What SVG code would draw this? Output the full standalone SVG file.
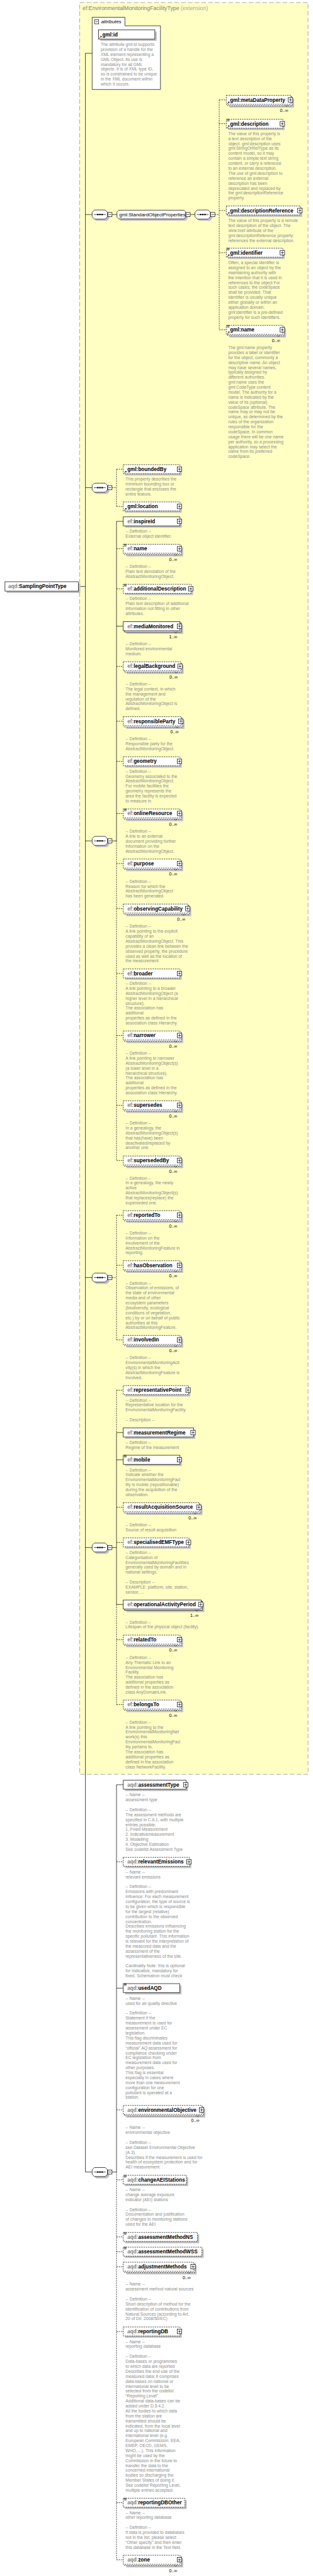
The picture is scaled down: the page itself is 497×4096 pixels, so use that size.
<svg xmlns="http://www.w3.org/2000/svg" width="497" height="4096" viewBox="0 0 497 4096">
<style>
.b{fill:#fff;stroke:#000;stroke-width:1}
.o{stroke-dasharray:3 2}
.s{fill:#c0c0c0}
.l{font-family:"Liberation Sans",Arial,sans-serif;font-size:11.4px;font-weight:bold;fill:#000}
.n{font-family:"Liberation Sans",Arial,sans-serif;font-size:11px;fill:#000}
.p{fill:#808080}
.d{font-family:"Liberation Sans",Arial,sans-serif;font-size:9.4px;fill:#8c8c8c}
.c{font-family:"Liberation Sans",Arial,sans-serif;font-size:10px;fill:#000;text-anchor:end}
.ln{fill:none;stroke:#000;stroke-width:1}
.dl{fill:none;stroke:#000;stroke-width:1;stroke-dasharray:3 2}
.nt{fill:none;stroke:#000;stroke-width:0.8}
</style>
<defs>
<g id="plus"><rect width="10" height="10" class="b"/><path d="M2,5H8M5,2V8" stroke="#000"/></g>
<g id="minus"><rect width="9.3" height="9.3" class="b"/><path d="M2,4.65H7.3" stroke="#000"/></g>
<g id="ref"><path d="M0,5L3.5,1.5" stroke="#000" stroke-width="1.2"/><path d="M1.5,0H5V3.5Z" fill="#000"/></g>
<g id="smp"><path d="M0,0.5H5.5M0,2.5H5.5M0,4.5H5.5" stroke="#000" stroke-width="0.9"/></g>
<g id="seq">
<polygon class="s" points="9,-6 33,-6 38,-1 38,9 33,14 9,14 4,9 4,-1"/>
<polygon class="b" points="5,-10 29,-10 34,-5 34,5 29,10 5,10 0,5 0,-5"/>
<path d="M4,0H30" stroke="#000"/>
<rect x="11" y="-1.5" width="3" height="3" fill="#000"/><rect x="15.8" y="-1.5" width="3" height="3" fill="#000"/><rect x="20.6" y="-1.5" width="3" height="3" fill="#000"/>
<use href="#minus" x="34.7" y="-4.65"/>
</g>
</defs>
<g transform="scale(0.7162)">
<rect x="176.7" y="5.7" width="506.3" height="3933.5" fill="#ffffc4" stroke="#8a8a8a" stroke-dasharray="10 5"/>
<text x="183" y="23" style="font-family:'Liberation Sans',Arial,sans-serif;font-size:12.3px;fill:#808080">ef:EnvironmentalMonitoringFacilityType<tspan fill="#a8a8a8"> (extension)</tspan></text>

<g id="connectors">
<path class="ln" d="M189.3,118.3V4822.2M189.3,118.3H204.3M178,1302H189.3M189.3,476.3H204.3M189.3,1082.7H204.3M189.3,1866.9H204.3M189.3,2836.4H204.3M189.3,3435.7H204.3M189.3,4822.2H204.3"/>
<path class="ln" d="M248.3,476.3H259.3M421.7,476.3H432.3"/>
<path class="dl" d="M476,476.3H486M486,221.7V732.3M486,221.7H501.7M486,274.7H501.7M486,467.3H501.7M486,561H501.7M486,732.3H501.7"/>
<path class="dl" d="M248.3,1082.7H258.3M258.3,1041.7V1124.3M258.3,1041.7H273.3M258.3,1124.3H273.3"/>
<path class="ln" d="M248.3,1866.9H258.3M258.3,1157.5V1866.9M258.3,1157.5H273.3M258.3,1390.3H273.3"/>
<path class="dl" d="M258.3,1866.9V2576.5M258.3,1218.3H273.3M258.3,1307.3H273.3M258.3,1479.3H273.3M258.3,1601.2H273.3M258.3,1690.2H273.3M258.3,1806H273.3M258.3,1917.2H273.3M258.3,2017.2H273.3M258.3,2161.3H273.3M258.3,2298.9H273.3M258.3,2453.9H273.3M258.3,2576.5H273.3"/>
<path class="dl" d="M248.3,2836.4H258.3M258.3,2697.9V2974.8M258.3,2697.9H273.3M258.3,2809.1H273.3M258.3,2974.8H273.3"/>
<path class="ln" d="M248.3,3435.7H258.3M258.3,3180.4V3562.2M258.3,3180.4H273.3M258.3,3240.9H273.3M258.3,3562.2H273.3"/>
<path class="dl" d="M258.3,3086.3V3180.4M258.3,3562.2V3784.3M258.3,3086.3H273.3M258.3,3346.3H273.3M258.3,3424.3H273.3M258.3,3640.2H273.3M258.3,3784.3H273.3"/>
<path class="ln" d="M248.3,4822.2H258.3M258.3,3962.4V4822.2M258.3,3962.4H273.3M258.3,4413.9H273.3"/>
<path class="dl" d="M258.3,4822.2V5683M258.3,4133.5H273.3M258.3,4684.3H273.3M258.3,4839.4H273.3M258.3,4966.3H273.3M258.3,4999H273.3M258.3,5032.4H273.3M258.3,5176.2H273.3M258.3,5556.4H273.3M258.3,5683H273.3"/>
</g>

<g id="root">
<rect class="s" x="15" y="1295.5" width="163" height="21"/>
<rect class="b" x="11" y="1291.5" width="163" height="21"/>
<text class="l" x="18" y="1306"><tspan class="p">aqd:</tspan>SamplingPointType</text>
</g>

<g id="attributes">
<path class="b" d="M204.3,38.3H277V57.3H355.7V198.7H204.3Z"/>
<use href="#minus" x="209.5" y="43.7"/>
<text x="224" y="52" style="font-family:'Liberation Sans',Arial,sans-serif;font-size:11px;font-style:italic">attributes</text>
<rect class="s" x="222.3" y="70.3" width="125" height="20.4"/>
<rect class="b" x="218.3" y="66.3" width="125" height="20.4"/>
<text class="l" x="227" y="80.5">gml:id</text>
<use href="#ref" x="220.3" y="80"/>
<text class="d" x="223.3" y="102"><tspan x="223.3">The attribute gml:id supports</tspan><tspan x="223.3" dy="11">provision of a handle for the</tspan><tspan x="223.3" dy="11">XML element representing a</tspan><tspan x="223.3" dy="11">GML Object. Its use is</tspan><tspan x="223.3" dy="11">mandatory for all GML</tspan><tspan x="223.3" dy="11">objects. It is of XML type ID,</tspan><tspan x="223.3" dy="11">so is constrained to be unique</tspan><tspan x="223.3" dy="11">in the XML document within</tspan><tspan x="223.3" dy="11">which it occurs.</tspan></text>
</g>

<g id="seq-std"><use href="#seq" x="204.3" y="476.3"/></g>
<g id="g-StandardObjectProperties">
<polygon class="s" points="267.3,470.7 411.7,470.7 415.7,474.7 415.7,486 411.7,490 267.3,490 263.3,486 263.3,474.7"/>
<polygon class="b" points="263.3,466.7 407.7,466.7 411.7,470.7 411.7,482 407.7,486 263.3,486 259.3,482 259.3,470.7"/>
<text class="n" x="264.3" y="480">gml:StandardObjectProperties</text>
<use href="#minus" x="412.3" y="471.7"/>
</g>
<g id="seq-gml"><use href="#seq" x="432.3" y="476.3"/></g>

<g id="e-metaDataProperty">
<rect class="s" x="508.7" y="218.7" width="143.3" height="20"/>
<rect class="b o" x="504.7" y="214.7" width="143.3" height="20"/>
<rect class="b o" x="501.7" y="211.7" width="143.3" height="20"/>
<path class="nt" d="M632,233.2l3.5,3.5l3.5,-3.5"/>
<text class="l" x="510" y="225.7">gml:metaDataProperty</text>
<use href="#ref" x="503.7" y="225.7"/>
<use href="#plus" x="639" y="216.7"/>
<text class="c" x="639" y="248.7">0..∞</text>
</g>
<g id="e-description">
<rect class="s" x="505.7" y="268.7" width="125.3" height="20"/>
<rect class="b o" x="501.7" y="264.7" width="125.3" height="20"/>
<use href="#smp" x="503.2" y="264.2"/>
<text class="l" x="510" y="278.7">gml:description</text>
<use href="#ref" x="503.7" y="278.7"/>
<use href="#plus" x="621" y="269.7"/>
<text class="d" x="506" y="300"><tspan x="506">The value of this property is</tspan><tspan x="506" dy="11">a text description of the</tspan><tspan x="506" dy="11">object. gml:description uses</tspan><tspan x="506" dy="11">gml:StringOrRefType as its</tspan><tspan x="506" dy="11">content model, so it may</tspan><tspan x="506" dy="11">contain a simple text string</tspan><tspan x="506" dy="11">content, or carry a reference</tspan><tspan x="506" dy="11">to an external description.</tspan><tspan x="506" dy="11">The use of gml:description to</tspan><tspan x="506" dy="11">reference an external</tspan><tspan x="506" dy="11">description has been</tspan><tspan x="506" dy="11">deprecated and replaced by</tspan><tspan x="506" dy="11">the gml:descriptionReference</tspan><tspan x="506" dy="11">property.</tspan></text>
</g>
<g id="e-descriptionReference">
<rect class="s" x="505.7" y="461.3" width="164.3" height="20"/>
<rect class="b o" x="501.7" y="457.3" width="164.3" height="20"/>
<text class="l" x="510" y="471.3">gml:descriptionReference</text>
<use href="#ref" x="503.7" y="471.3"/>
<use href="#plus" x="660" y="462.3"/>
<text class="d" x="506" y="493"><tspan x="506">The value of this property is a remote</tspan><tspan x="506" dy="11">text description of the object. The</tspan><tspan x="506" dy="11">xlink:href attribute of the</tspan><tspan x="506" dy="11">gml:descriptionReference property</tspan><tspan x="506" dy="11">references the external description.</tspan></text>
</g>
<g id="e-identifier">
<rect class="s" x="505.7" y="555" width="125.3" height="20"/>
<rect class="b o" x="501.7" y="551" width="125.3" height="20"/>
<use href="#smp" x="503.2" y="550.5"/>
<text class="l" x="510" y="565">gml:identifier</text>
<use href="#ref" x="503.7" y="565"/>
<use href="#plus" x="621" y="556"/>
<text class="d" x="506" y="586.5"><tspan x="506">Often, a special identifier is</tspan><tspan x="506" dy="11">assigned to an object by the</tspan><tspan x="506" dy="11">maintaining authority with</tspan><tspan x="506" dy="11">the intention that it is used in</tspan><tspan x="506" dy="11">references to the object For</tspan><tspan x="506" dy="11">such cases, the codeSpace</tspan><tspan x="506" dy="11">shall be provided. That</tspan><tspan x="506" dy="11">identifier is usually unique</tspan><tspan x="506" dy="11">either globally or within an</tspan><tspan x="506" dy="11">application domain.</tspan><tspan x="506" dy="11">gml:identifier is a pre-defined</tspan><tspan x="506" dy="11">property for such identifiers.</tspan></text>
</g>
<g id="e-gmlname">
<rect class="s" x="508.7" y="729.3" width="125.3" height="20"/>
<rect class="b o" x="504.7" y="725.3" width="125.3" height="20"/>
<rect class="b o" x="501.7" y="722.3" width="125.3" height="20"/>
<path class="nt" d="M614,743.8l3.5,3.5l3.5,-3.5"/>
<use href="#smp" x="503.2" y="721.8"/>
<text class="l" x="510" y="736.3">gml:name</text>
<use href="#ref" x="503.7" y="736.3"/>
<use href="#plus" x="621" y="727.3"/>
<text class="c" x="621" y="759.3">0..∞</text>
<text class="d" x="506" y="775"><tspan x="506">The gml:name property</tspan><tspan x="506" dy="11">provides a label or identifier</tspan><tspan x="506" dy="11">for the object, commonly a</tspan><tspan x="506" dy="11">descriptive name. An object</tspan><tspan x="506" dy="11">may have several names,</tspan><tspan x="506" dy="11">typically assigned by</tspan><tspan x="506" dy="11">different authorities.</tspan><tspan x="506" dy="11">gml:name uses the</tspan><tspan x="506" dy="11">gml:CodeType content</tspan><tspan x="506" dy="11">model.  The authority for a</tspan><tspan x="506" dy="11">name is indicated by the</tspan><tspan x="506" dy="11">value of its (optional)</tspan><tspan x="506" dy="11">codeSpace attribute.  The</tspan><tspan x="506" dy="11">name may or may not be</tspan><tspan x="506" dy="11">unique, as determined by the</tspan><tspan x="506" dy="11">rules of the organization</tspan><tspan x="506" dy="11">responsible for the</tspan><tspan x="506" dy="11">codeSpace.  In common</tspan><tspan x="506" dy="11">usage there will be one name</tspan><tspan x="506" dy="11">per authority, so a processing</tspan><tspan x="506" dy="11">application may select the</tspan><tspan x="506" dy="11">name from its preferred</tspan><tspan x="506" dy="11">codeSpace.</tspan></text>
</g>

<g id="seq-bounded"><use href="#seq" x="204.3" y="1082.7"/></g>
<g id="e-boundedBy">
<rect class="s" x="277.3" y="1035.7" width="125.7" height="20"/>
<rect class="b o" x="273.3" y="1031.7" width="125.7" height="20"/>
<text class="l" x="282.3" y="1045.7">gml:boundedBy</text>
<use href="#ref" x="275.3" y="1045.7"/>
<use href="#plus" x="393" y="1036.7"/>
<text class="d" x="278.3" y="1067"><tspan x="278.3">This property describes the</tspan><tspan x="278.3" dy="11">minimum bounding box or</tspan><tspan x="278.3" dy="11">rectangle that encloses the</tspan><tspan x="278.3" dy="11">entire feature.</tspan></text>
</g>
<g id="e-location">
<rect class="s" x="277.3" y="1118.3" width="125.7" height="20"/>
<rect class="b o" x="273.3" y="1114.3" width="125.7" height="20"/>
<text class="l" x="282.3" y="1128.3">gml:location</text>
<use href="#ref" x="275.3" y="1128.3"/>
<use href="#plus" x="393" y="1119.3"/>
</g>

<g id="seq-amo"><use href="#seq" x="204.3" y="1866.9"/></g>
<g id="e-inspireId">
<rect class="s" x="277.3" y="1151.5" width="125.7" height="20"/>
<rect class="b" x="273.3" y="1147.5" width="125.7" height="20"/>
<text class="l" x="282.3" y="1161.5"><tspan class="p">ef:</tspan>inspireId</text>
<use href="#plus" x="393" y="1152.5"/>
<text class="d" x="278.3" y="1183"><tspan x="278.3">-- Definition --</tspan><tspan x="278.3" dy="11">External object identifier.</tspan></text>
</g>
<g id="e-name">
<rect class="s" x="280.3" y="1215.3" width="125.7" height="20"/>
<rect class="b o" x="276.3" y="1211.3" width="125.7" height="20"/>
<rect class="b o" x="273.3" y="1208.3" width="125.7" height="20"/>
<path class="nt" d="M386,1229.8l3.5,3.5l3.5,-3.5"/>
<use href="#smp" x="275" y="1207.8"/>
<text class="l" x="282.3" y="1222.3"><tspan class="p">ef:</tspan>name</text>
<use href="#plus" x="393" y="1213.3"/>
<text class="c" x="393" y="1245.3">0..∞</text>
<text class="d" x="278.3" y="1260.7"><tspan x="278.3">-- Definition --</tspan><tspan x="278.3" dy="11">Plain text denotation of the</tspan><tspan x="278.3" dy="11">AbstractMonitoringObject.</tspan></text>
</g>
<g id="e-additionalDescription">
<rect class="s" x="277.3" y="1301.3" width="150.7" height="20"/>
<rect class="b o" x="273.3" y="1297.3" width="150.7" height="20"/>
<use href="#smp" x="275" y="1296.8"/>
<text class="l" x="282.3" y="1311.3"><tspan class="p">ef:</tspan>additionalDescription</text>
<use href="#plus" x="418" y="1302.3"/>
<text class="d" x="278.3" y="1332.6"><tspan x="278.3">-- Definition --</tspan><tspan x="278.3" dy="11">Plain text description of additional</tspan><tspan x="278.3" dy="11">information not fitting in other</tspan><tspan x="278.3" dy="11">attributes.</tspan></text>
</g>
<g id="e-mediaMonitored">
<rect class="s" x="280.3" y="1387.3" width="125.7" height="20"/>
<rect class="b" x="276.3" y="1383.3" width="125.7" height="20"/>
<rect class="b" x="273.3" y="1380.3" width="125.7" height="20"/>
<path class="nt" d="M386,1401.8l3.5,3.5l3.5,-3.5"/>
<text class="l" x="282.3" y="1394.3"><tspan class="p">ef:</tspan>mediaMonitored</text>
<use href="#plus" x="393" y="1385.3"/>
<text class="c" x="393" y="1417.3">1..∞</text>
<text class="d" x="278.3" y="1432.7"><tspan x="278.3">-- Definition --</tspan><tspan x="278.3" dy="11">Monitored environmental</tspan><tspan x="278.3" dy="11">medium.</tspan></text>
</g>
<g id="e-legalBackground">
<rect class="s" x="280.3" y="1476.3" width="126.7" height="20"/>
<rect class="b o" x="276.3" y="1472.3" width="126.7" height="20"/>
<rect class="b o" x="273.3" y="1469.3" width="126.7" height="20"/>
<path class="nt" d="M387,1490.8l3.5,3.5l3.5,-3.5"/>
<text class="l" x="282.3" y="1483.3"><tspan class="p">ef:</tspan>legalBackground</text>
<use href="#plus" x="394" y="1474.3"/>
<text class="c" x="394" y="1506.3">0..∞</text>
<text class="d" x="278.3" y="1521.8"><tspan x="278.3">-- Definition --</tspan><tspan x="278.3" dy="11">The legal context, in which</tspan><tspan x="278.3" dy="11">the management and</tspan><tspan x="278.3" dy="11">regulation of the</tspan><tspan x="278.3" dy="11">AbstractMonitoringObject is</tspan><tspan x="278.3" dy="11">defined.</tspan></text>
</g>
<g id="e-responsibleParty">
<rect class="s" x="280.3" y="1598.2" width="128.7" height="20"/>
<rect class="b o" x="276.3" y="1594.2" width="128.7" height="20"/>
<rect class="b o" x="273.3" y="1591.2" width="128.7" height="20"/>
<path class="nt" d="M389,1612.7l3.5,3.5l3.5,-3.5"/>
<text class="l" x="282.3" y="1605.2"><tspan class="p">ef:</tspan>responsibleParty</text>
<use href="#plus" x="396" y="1596.2"/>
<text class="c" x="396" y="1628.2">0..∞</text>
<text class="d" x="278.3" y="1643.6"><tspan x="278.3">-- Definition --</tspan><tspan x="278.3" dy="11">Responsible party for the</tspan><tspan x="278.3" dy="11">AbstractMonitoringObject.</tspan></text>
</g>
<g id="e-geometry">
<rect class="s" x="277.3" y="1684.2" width="125.7" height="20"/>
<rect class="b o" x="273.3" y="1680.2" width="125.7" height="20"/>
<text class="l" x="282.3" y="1694.2"><tspan class="p">ef:</tspan>geometry</text>
<use href="#plus" x="393" y="1685.2"/>
<text class="d" x="278.3" y="1715.5"><tspan x="278.3">-- Definition --</tspan><tspan x="278.3" dy="11">Geometry associated to the</tspan><tspan x="278.3" dy="11">AbstractMonitoringObject.</tspan><tspan x="278.3" dy="11">For mobile facilities the</tspan><tspan x="278.3" dy="11">geometry represents the</tspan><tspan x="278.3" dy="11">area the facility is expected</tspan><tspan x="278.3" dy="11">to measure in.</tspan></text>
</g>
<g id="e-onlineResource">
<rect class="s" x="280.3" y="1803" width="125.7" height="20"/>
<rect class="b o" x="276.3" y="1799" width="125.7" height="20"/>
<rect class="b o" x="273.3" y="1796" width="125.7" height="20"/>
<path class="nt" d="M386,1817.5l3.5,3.5l3.5,-3.5"/>
<use href="#smp" x="275" y="1795.5"/>
<text class="l" x="282.3" y="1810"><tspan class="p">ef:</tspan>onlineResource</text>
<use href="#plus" x="393" y="1801"/>
<text class="c" x="393" y="1833">0..∞</text>
<text class="d" x="278.3" y="1848.8"><tspan x="278.3">-- Definition --</tspan><tspan x="278.3" dy="11">A link to an external</tspan><tspan x="278.3" dy="11">document providing further</tspan><tspan x="278.3" dy="11">information on the</tspan><tspan x="278.3" dy="11">AbstractMonitoringObject.</tspan></text>
</g>
<g id="e-purpose">
<rect class="s" x="280.3" y="1914.2" width="125.7" height="20"/>
<rect class="b o" x="276.3" y="1910.2" width="125.7" height="20"/>
<rect class="b o" x="273.3" y="1907.2" width="125.7" height="20"/>
<path class="nt" d="M386,1928.7l3.5,3.5l3.5,-3.5"/>
<text class="l" x="282.3" y="1921.2"><tspan class="p">ef:</tspan>purpose</text>
<use href="#plus" x="393" y="1912.2"/>
<text class="c" x="393" y="1944.2">0..∞</text>
<text class="d" x="278.3" y="1959.9"><tspan x="278.3">-- Definition --</tspan><tspan x="278.3" dy="11">Reason for which the</tspan><tspan x="278.3" dy="11">AbstractMonitoringObject</tspan><tspan x="278.3" dy="11">has been generated.</tspan></text>
</g>
<g id="e-observingCapability">
<rect class="s" x="280.3" y="2014.2" width="143.7" height="20"/>
<rect class="b o" x="276.3" y="2010.2" width="143.7" height="20"/>
<rect class="b o" x="273.3" y="2007.2" width="143.7" height="20"/>
<path class="nt" d="M404,2028.7l3.5,3.5l3.5,-3.5"/>
<text class="l" x="282.3" y="2021.2"><tspan class="p">ef:</tspan>observingCapability</text>
<use href="#plus" x="411" y="2012.2"/>
<text class="c" x="411" y="2044.2">0..∞</text>
<text class="d" x="278.3" y="2059.9"><tspan x="278.3">-- Definition --</tspan><tspan x="278.3" dy="11">A link pointing to the explicit</tspan><tspan x="278.3" dy="11">capability of an</tspan><tspan x="278.3" dy="11">AbstractMonitoringObject. This</tspan><tspan x="278.3" dy="11">provides a clean link between the</tspan><tspan x="278.3" dy="11">observed property, the procedure</tspan><tspan x="278.3" dy="11">used as well as the location of</tspan><tspan x="278.3" dy="11">the measurement</tspan></text>
</g>
<g id="e-broader">
<rect class="s" x="277.3" y="2155.3" width="125.7" height="20"/>
<rect class="b o" x="273.3" y="2151.3" width="125.7" height="20"/>
<text class="l" x="282.3" y="2165.3"><tspan class="p">ef:</tspan>broader</text>
<use href="#plus" x="393" y="2156.3"/>
<text class="d" x="278.3" y="2186.6"><tspan x="278.3">-- Definition --</tspan><tspan x="278.3" dy="11">A link pointing to a broader</tspan><tspan x="278.3" dy="11">AbstractMonitoringObject (a</tspan><tspan x="278.3" dy="11">higher level in a hierarchical</tspan><tspan x="278.3" dy="11">structure).</tspan><tspan x="278.3" dy="11">The association has</tspan><tspan x="278.3" dy="11">additional</tspan><tspan x="278.3" dy="11">properties as defined in the</tspan><tspan x="278.3" dy="11">association class Hierarchy.</tspan></text>
</g>
<g id="e-narrower">
<rect class="s" x="280.3" y="2295.9" width="125.7" height="20"/>
<rect class="b o" x="276.3" y="2291.9" width="125.7" height="20"/>
<rect class="b o" x="273.3" y="2288.9" width="125.7" height="20"/>
<path class="nt" d="M386,2310.4l3.5,3.5l3.5,-3.5"/>
<text class="l" x="282.3" y="2302.9"><tspan class="p">ef:</tspan>narrower</text>
<use href="#plus" x="393" y="2293.9"/>
<text class="c" x="393" y="2325.9">0..∞</text>
<text class="d" x="278.3" y="2341.6"><tspan x="278.3">-- Definition --</tspan><tspan x="278.3" dy="11">A link pointing to narrower</tspan><tspan x="278.3" dy="11">AbstractMonitoringObject(s)</tspan><tspan x="278.3" dy="11">(a lower level in a</tspan><tspan x="278.3" dy="11">hierarchical structure).</tspan><tspan x="278.3" dy="11">The association has</tspan><tspan x="278.3" dy="11">additional</tspan><tspan x="278.3" dy="11">properties as defined in the</tspan><tspan x="278.3" dy="11">association class Hierarchy.</tspan></text>
</g>
<g id="e-supersedes">
<rect class="s" x="280.3" y="2450.9" width="125.7" height="20"/>
<rect class="b o" x="276.3" y="2446.9" width="125.7" height="20"/>
<rect class="b o" x="273.3" y="2443.9" width="125.7" height="20"/>
<path class="nt" d="M386,2465.4l3.5,3.5l3.5,-3.5"/>
<text class="l" x="282.3" y="2457.9"><tspan class="p">ef:</tspan>supersedes</text>
<use href="#plus" x="393" y="2448.9"/>
<text class="c" x="393" y="2480.9">0..∞</text>
<text class="d" x="278.3" y="2496.6"><tspan x="278.3">-- Definition --</tspan><tspan x="278.3" dy="11">In a genealogy, the</tspan><tspan x="278.3" dy="11">AbstractMonitoringObject(s)</tspan><tspan x="278.3" dy="11">that has(have) been</tspan><tspan x="278.3" dy="11">deactivated/replaced by</tspan><tspan x="278.3" dy="11">another one.</tspan></text>
</g>
<g id="e-supersededBy">
<rect class="s" x="280.3" y="2573.5" width="125.7" height="20"/>
<rect class="b o" x="276.3" y="2569.5" width="125.7" height="20"/>
<rect class="b o" x="273.3" y="2566.5" width="125.7" height="20"/>
<path class="nt" d="M386,2588l3.5,3.5l3.5,-3.5"/>
<text class="l" x="282.3" y="2580.5"><tspan class="p">ef:</tspan>supersededBy</text>
<use href="#plus" x="393" y="2571.5"/>
<text class="c" x="393" y="2603.5">0..∞</text>
<text class="d" x="278.3" y="2618.8"><tspan x="278.3">-- Definition --</tspan><tspan x="278.3" dy="11">In a genealogy, the newly</tspan><tspan x="278.3" dy="11">active</tspan><tspan x="278.3" dy="11">AbstractMonitoringObject(s)</tspan><tspan x="278.3" dy="11">that replaces(replace) the</tspan><tspan x="278.3" dy="11">superseded one.</tspan></text>
</g>

<g id="seq-amf"><use href="#seq" x="204.3" y="2836.4"/></g>
<g id="e-reportedTo">
<rect class="s" x="280.3" y="2694.9" width="125.7" height="20"/>
<rect class="b o" x="276.3" y="2690.9" width="125.7" height="20"/>
<rect class="b o" x="273.3" y="2687.9" width="125.7" height="20"/>
<path class="nt" d="M386,2709.4l3.5,3.5l3.5,-3.5"/>
<text class="l" x="282.3" y="2701.9"><tspan class="p">ef:</tspan>reportedTo</text>
<use href="#plus" x="393" y="2692.9"/>
<text class="c" x="393" y="2724.9">0..∞</text>
<text class="d" x="278.3" y="2740.8"><tspan x="278.3">-- Definition --</tspan><tspan x="278.3" dy="11">Information on the</tspan><tspan x="278.3" dy="11">involvement of the</tspan><tspan x="278.3" dy="11">AbstractMonitoringFeature in</tspan><tspan x="278.3" dy="11">reporting.</tspan></text>
</g>
<g id="e-hasObservation">
<rect class="s" x="280.3" y="2806.1" width="125.7" height="20"/>
<rect class="b o" x="276.3" y="2802.1" width="125.7" height="20"/>
<rect class="b o" x="273.3" y="2799.1" width="125.7" height="20"/>
<path class="nt" d="M386,2820.6l3.5,3.5l3.5,-3.5"/>
<text class="l" x="282.3" y="2813.1"><tspan class="p">ef:</tspan>hasObservation</text>
<use href="#plus" x="393" y="2804.1"/>
<text class="c" x="393" y="2836.1">0..∞</text>
<text class="d" x="278.3" y="2851.9"><tspan x="278.3">-- Definition --</tspan><tspan x="278.3" dy="11">Observation of emissions, of</tspan><tspan x="278.3" dy="11">the state of environmental</tspan><tspan x="278.3" dy="11">media and of other</tspan><tspan x="278.3" dy="11">ecosystem parameters</tspan><tspan x="278.3" dy="11">(biodiversity, ecological</tspan><tspan x="278.3" dy="11">conditions of vegetation,</tspan><tspan x="278.3" dy="11">etc.) by or on behalf of public</tspan><tspan x="278.3" dy="11">authorities at this</tspan><tspan x="278.3" dy="11">AbstractMonitoringFeature.</tspan></text>
</g>
<g id="e-involvedIn">
<rect class="s" x="280.3" y="2971.8" width="125.7" height="20"/>
<rect class="b o" x="276.3" y="2967.8" width="125.7" height="20"/>
<rect class="b o" x="273.3" y="2964.8" width="125.7" height="20"/>
<path class="nt" d="M386,2986.3l3.5,3.5l3.5,-3.5"/>
<text class="l" x="282.3" y="2978.8"><tspan class="p">ef:</tspan>involvedIn</text>
<use href="#plus" x="393" y="2969.8"/>
<text class="c" x="393" y="3001.8">0..∞</text>
<text class="d" x="278.3" y="3017.6"><tspan x="278.3">-- Definition --</tspan><tspan x="278.3" dy="11">EnvironmentalMonitoringActi</tspan><tspan x="278.3" dy="11">vity(s) in which the</tspan><tspan x="278.3" dy="11">AbstractMonitoringFeature is</tspan><tspan x="278.3" dy="11">involved.</tspan></text>
</g>

<g id="seq-emf"><use href="#seq" x="204.3" y="3435.7"/></g>
<g id="e-representativePoint">
<rect class="s" x="277.3" y="3080.3" width="144.7" height="20"/>
<rect class="b o" x="273.3" y="3076.3" width="144.7" height="20"/>
<text class="l" x="282.3" y="3090.3"><tspan class="p">ef:</tspan>representativePoint</text>
<use href="#plus" x="412" y="3081.3"/>
<text class="d" x="278.3" y="3111.7"><tspan x="278.3">-- Definition --</tspan><tspan x="278.3" dy="11">Representative location for the</tspan><tspan x="278.3" dy="11">EnvironmentalMonitoringFacility.</tspan><tspan x="278.3" dy="22">-- Description --</tspan></text>
</g>
<g id="e-measurementRegime">
<rect class="s" x="277.3" y="3174.4" width="155.7" height="20"/>
<rect class="b" x="273.3" y="3170.4" width="155.7" height="20"/>
<text class="l" x="282.3" y="3184.4"><tspan class="p">ef:</tspan>measurementRegime</text>
<use href="#plus" x="423" y="3175.4"/>
<text class="d" x="278.3" y="3205.8"><tspan x="278.3">-- Definition --</tspan><tspan x="278.3" dy="11">Regime of the measurement</tspan></text>
</g>
<g id="e-mobile">
<rect class="s" x="277.3" y="3234.9" width="125.7" height="20"/>
<rect class="b" x="273.3" y="3230.9" width="125.7" height="20"/>
<use href="#smp" x="275" y="3230.4"/>
<text class="l" x="282.3" y="3244.9"><tspan class="p">ef:</tspan>mobile</text>
<use href="#plus" x="393" y="3235.9"/>
<text class="d" x="278.3" y="3266.7"><tspan x="278.3">-- Definition --</tspan><tspan x="278.3" dy="11">Indicate whether the</tspan><tspan x="278.3" dy="11">EnvironmentalMonitoringFaci</tspan><tspan x="278.3" dy="11">lity is mobile (repositionable)</tspan><tspan x="278.3" dy="11">during the acquisition of the</tspan><tspan x="278.3" dy="11">observation.</tspan></text>
</g>
<g id="e-resultAcquisitionSource">
<rect class="s" x="280.3" y="3343.3" width="168.7" height="20"/>
<rect class="b o" x="276.3" y="3339.3" width="168.7" height="20"/>
<rect class="b o" x="273.3" y="3336.3" width="168.7" height="20"/>
<path class="nt" d="M429,3357.8l3.5,3.5l3.5,-3.5"/>
<text class="l" x="282.3" y="3350.3"><tspan class="p">ef:</tspan>resultAcquisitionSource</text>
<use href="#plus" x="436" y="3341.3"/>
<text class="c" x="436" y="3373.3">0..∞</text>
<text class="d" x="278.3" y="3388.7"><tspan x="278.3">-- Definition --</tspan><tspan x="278.3" dy="11">Source of result acquisition</tspan></text>
</g>
<g id="e-specialisedEMFType">
<rect class="s" x="277.3" y="3418.3" width="145.7" height="20"/>
<rect class="b o" x="273.3" y="3414.3" width="145.7" height="20"/>
<text class="l" x="282.3" y="3428.3"><tspan class="p">ef:</tspan>specialisedEMFType</text>
<use href="#plus" x="413" y="3419.3"/>
<text class="d" x="278.3" y="3449.9"><tspan x="278.3">-- Definition --</tspan><tspan x="278.3" dy="11">Categorisation of</tspan><tspan x="278.3" dy="11">EnvironmentalMonitoringFacilities</tspan><tspan x="278.3" dy="11">generally used by domain and in</tspan><tspan x="278.3" dy="11">national settings.</tspan><tspan x="278.3" dy="22">-- Description --</tspan><tspan x="278.3" dy="11">EXAMPLE: platform, site, station,</tspan><tspan x="278.3" dy="11">sensor, ...</tspan></text>
</g>
<g id="e-operationalActivityPeriod">
<rect class="s" x="280.3" y="3559.2" width="172.7" height="20"/>
<rect class="b" x="276.3" y="3555.2" width="172.7" height="20"/>
<rect class="b" x="273.3" y="3552.2" width="172.7" height="20"/>
<path class="nt" d="M433,3573.7l3.5,3.5l3.5,-3.5"/>
<text class="l" x="282.3" y="3566.2"><tspan class="p">ef:</tspan>operationalActivityPeriod</text>
<use href="#plus" x="440" y="3557.2"/>
<text class="c" x="440" y="3589.2">1..∞</text>
<text class="d" x="278.3" y="3604.6"><tspan x="278.3">-- Definition --</tspan><tspan x="278.3" dy="11">Lifespan of the physical object (facility).</tspan></text>
</g>
<g id="e-relatedTo">
<rect class="s" x="280.3" y="3637.2" width="125.7" height="20"/>
<rect class="b o" x="276.3" y="3633.2" width="125.7" height="20"/>
<rect class="b o" x="273.3" y="3630.2" width="125.7" height="20"/>
<path class="nt" d="M386,3651.7l3.5,3.5l3.5,-3.5"/>
<text class="l" x="282.3" y="3644.2"><tspan class="p">ef:</tspan>relatedTo</text>
<use href="#plus" x="393" y="3635.2"/>
<text class="c" x="393" y="3667.2">0..∞</text>
<text class="d" x="278.3" y="3683"><tspan x="278.3">-- Definition --</tspan><tspan x="278.3" dy="11">Any Thematic Link to an</tspan><tspan x="278.3" dy="11">Environmental Monitoring</tspan><tspan x="278.3" dy="11">Facility.</tspan><tspan x="278.3" dy="11">The association has</tspan><tspan x="278.3" dy="11">additional properties as</tspan><tspan x="278.3" dy="11">defined in the association</tspan><tspan x="278.3" dy="11">class AnyDomainLink.</tspan></text>
</g>
<g id="e-belongsTo">
<rect class="s" x="280.3" y="3781.3" width="125.7" height="20"/>
<rect class="b o" x="276.3" y="3777.3" width="125.7" height="20"/>
<rect class="b o" x="273.3" y="3774.3" width="125.7" height="20"/>
<path class="nt" d="M386,3795.8l3.5,3.5l3.5,-3.5"/>
<text class="l" x="282.3" y="3788.3"><tspan class="p">ef:</tspan>belongsTo</text>
<use href="#plus" x="393" y="3779.3"/>
<text class="c" x="393" y="3811.3">0..∞</text>
<text class="d" x="278.3" y="3826.7"><tspan x="278.3">-- Definition --</tspan><tspan x="278.3" dy="11">A link pointing to the</tspan><tspan x="278.3" dy="11">EnvironmentalMonitoringNet</tspan><tspan x="278.3" dy="11">work(s) this</tspan><tspan x="278.3" dy="11">EnvironmentalMonitoringFaci</tspan><tspan x="278.3" dy="11">lity pertains to.</tspan><tspan x="278.3" dy="11">The association has</tspan><tspan x="278.3" dy="11">additional properties as</tspan><tspan x="278.3" dy="11">defined in the association</tspan><tspan x="278.3" dy="11">class NetworkFacility.</tspan></text>
</g>

<g id="seq-aqd"><use href="#seq" x="204.3" y="4822.2"/></g>
<g id="e-assessmentType">
<rect class="s" x="277.3" y="3956.4" width="139.4" height="20"/>
<rect class="b" x="273.3" y="3952.4" width="139.4" height="20"/>
<text class="l" x="282.3" y="3966.4"><tspan class="p">aqd:</tspan>assessmentType</text>
<use href="#plus" x="406.7" y="3957.4"/>
<text class="d" x="278.3" y="3988.1"><tspan x="278.3">-- Name --</tspan><tspan x="278.3" dy="11">assessment type</tspan><tspan x="278.3" dy="22">-- Definition --</tspan><tspan x="278.3" dy="11">The assessment methods are</tspan><tspan x="278.3" dy="11">specified in C.6.1, with multiple</tspan><tspan x="278.3" dy="11">entries possible:</tspan><tspan x="278.3" dy="11">1. Fixed Measurement</tspan><tspan x="278.3" dy="11">2. Indicativemeasurement</tspan><tspan x="278.3" dy="11">3. Modelling</tspan><tspan x="278.3" dy="11">4. Objective Estimation</tspan><tspan x="278.3" dy="11">See codelist Assessment Type</tspan></text>
</g>
<g id="e-relevantEmissions">
<rect class="s" x="277.3" y="4127.5" width="146.7" height="20"/>
<rect class="b o" x="273.3" y="4123.5" width="146.7" height="20"/>
<text class="l" x="282.3" y="4137.5"><tspan class="p">aqd:</tspan>relevantEmissions</text>
<use href="#plus" x="414" y="4128.5"/>
<text class="d" x="278.3" y="4159.1"><tspan x="278.3">-- Name --</tspan><tspan x="278.3" dy="11">relevant emissions</tspan><tspan x="278.3" dy="22">-- Definition --</tspan><tspan x="278.3" dy="11">Emissions with predominant</tspan><tspan x="278.3" dy="11">influence: For each measurement</tspan><tspan x="278.3" dy="11">configuration, the type of source is</tspan><tspan x="278.3" dy="11">to be given which is responsible</tspan><tspan x="278.3" dy="11">for the largest (relative)</tspan><tspan x="278.3" dy="11">contribution to the observed</tspan><tspan x="278.3" dy="11">concentration.</tspan><tspan x="278.3" dy="11">Describes emissions influencing</tspan><tspan x="278.3" dy="11">the monitoring station for the</tspan><tspan x="278.3" dy="11">specific pollutant. This information</tspan><tspan x="278.3" dy="11">is relevant for the interpretation of</tspan><tspan x="278.3" dy="11">the measured data and the</tspan><tspan x="278.3" dy="11">assessment of the</tspan><tspan x="278.3" dy="11">representativeness of the site.</tspan><tspan x="278.3" dy="22">Cardinality Note: this is optional</tspan><tspan x="278.3" dy="11">for Indicative, mandatory for</tspan><tspan x="278.3" dy="11">fixed. Schematron must check</tspan></text>
</g>
<g id="e-usedAQD">
<rect class="s" x="277.3" y="4407.9" width="125" height="20"/>
<rect class="b" x="273.3" y="4403.9" width="125" height="20"/>
<use href="#smp" x="275" y="4403.4"/>
<text class="l" x="282.3" y="4417.9"><tspan class="p">aqd:</tspan>usedAQD</text>
<text class="d" x="278.3" y="4439.9"><tspan x="278.3">-- Name --</tspan><tspan x="278.3" dy="11">used for air quality directive</tspan><tspan x="278.3" dy="22">-- Definition --</tspan><tspan x="278.3" dy="11">Statement if the</tspan><tspan x="278.3" dy="11">measurement is used for</tspan><tspan x="278.3" dy="11">assessment under EC</tspan><tspan x="278.3" dy="11">legislation.</tspan><tspan x="278.3" dy="11">This flag discriminates</tspan><tspan x="278.3" dy="11">measurement data used for</tspan><tspan x="278.3" dy="11">“official” AQ assessment for</tspan><tspan x="278.3" dy="11">compliance checking under</tspan><tspan x="278.3" dy="11">EC legislation from</tspan><tspan x="278.3" dy="11">measurement data used for</tspan><tspan x="278.3" dy="11">other purposes.</tspan><tspan x="278.3" dy="11">This flag is essential</tspan><tspan x="278.3" dy="11">especially in cases where</tspan><tspan x="278.3" dy="11">more than one measurement</tspan><tspan x="278.3" dy="11">configuration for one</tspan><tspan x="278.3" dy="11">pollutant is operated at a</tspan><tspan x="278.3" dy="11">station.</tspan></text>
</g>
<g id="e-environmentalObjective">
<rect class="s" x="280.3" y="4681.3" width="174.7" height="20"/>
<rect class="b o" x="276.3" y="4677.3" width="174.7" height="20"/>
<rect class="b o" x="273.3" y="4674.3" width="174.7" height="20"/>
<path class="nt" d="M435,4695.8l3.5,3.5l3.5,-3.5"/>
<text class="l" x="282.3" y="4688.3"><tspan class="p">aqd:</tspan>environmentalObjective</text>
<use href="#plus" x="442" y="4679.3"/>
<text class="c" x="442" y="4711.3">0..∞</text>
<text class="d" x="278.3" y="4726.7"><tspan x="278.3">-- Name --</tspan><tspan x="278.3" dy="11">environmental objective</tspan><tspan x="278.3" dy="22">-- Definition --</tspan><tspan x="278.3" dy="11">see Dataset Environmental Objective</tspan><tspan x="278.3" dy="11">(A.3).</tspan><tspan x="278.3" dy="11">Describes if the measurement is used for</tspan><tspan x="278.3" dy="11">health of ecosystem protection and for</tspan><tspan x="278.3" dy="11">AEI measurement.</tspan></text>
</g>
<g id="e-changeAEIStations">
<rect class="s" x="277.3" y="4833.4" width="140" height="20"/>
<rect class="b o" x="273.3" y="4829.4" width="140" height="20"/>
<use href="#smp" x="275" y="4828.9"/>
<text class="l" x="282.3" y="4843.4"><tspan class="p">aqd:</tspan>changeAEIStations</text>
<text class="d" x="278.3" y="4864.6"><tspan x="278.3">-- Name --</tspan><tspan x="278.3" dy="11">change average exposure</tspan><tspan x="278.3" dy="11">indicator (AEI) stations</tspan><tspan x="278.3" dy="22">-- Definition --</tspan><tspan x="278.3" dy="11">Documentation and justification</tspan><tspan x="278.3" dy="11">of changes in monitoring stations</tspan><tspan x="278.3" dy="11">used for the AEI</tspan></text>
</g>
<g id="e-assessmentMethodNS">
<rect class="s" x="277.3" y="4960.3" width="164.4" height="20"/>
<rect class="b o" x="273.3" y="4956.3" width="164.4" height="20"/>
<use href="#smp" x="275" y="4955.8"/>
<text class="l" x="282.3" y="4970.3"><tspan class="p">aqd:</tspan>assessmentMethodNS</text>
</g>
<g id="e-assessmentMethodWSS">
<rect class="s" x="277.3" y="4993" width="174.4" height="20"/>
<rect class="b o" x="273.3" y="4989" width="174.4" height="20"/>
<use href="#smp" x="275" y="4988.5"/>
<text class="l" x="282.3" y="5003"><tspan class="p">aqd:</tspan>assessmentMethodWSS</text>
</g>
<g id="e-adjustmentMethods">
<rect class="s" x="280.3" y="5029.4" width="155.7" height="20"/>
<rect class="b o" x="276.3" y="5025.4" width="155.7" height="20"/>
<rect class="b o" x="273.3" y="5022.4" width="155.7" height="20"/>
<path class="nt" d="M416,5043.9l3.5,3.5l3.5,-3.5"/>
<text class="l" x="282.3" y="5036.4"><tspan class="p">aqd:</tspan>adjustmentMethods</text>
<use href="#plus" x="423" y="5027.4"/>
<text class="c" x="423" y="5059.4">0..∞</text>
<text class="d" x="278.3" y="5074.4"><tspan x="278.3">-- Name --</tspan><tspan x="278.3" dy="11">assessment method natural sources</tspan><tspan x="278.3" dy="22">-- Definition --</tspan><tspan x="278.3" dy="11">Short description of method for the</tspan><tspan x="278.3" dy="11">identification of contributions from</tspan><tspan x="278.3" dy="11">Natural Sources (according to Art.</tspan><tspan x="278.3" dy="11">20 of Dir. 2008/50/EC)</tspan></text>
</g>
<g id="e-reportingDB">
<rect class="s" x="277.3" y="5170.2" width="125.7" height="20"/>
<rect class="b o" x="273.3" y="5166.2" width="125.7" height="20"/>
<text class="l" x="282.3" y="5180.2"><tspan class="p">aqd:</tspan>reportingDB</text>
<use href="#plus" x="393" y="5171.2"/>
<text class="d" x="278.3" y="5201.9"><tspan x="278.3">-- Name --</tspan><tspan x="278.3" dy="11">reporting database</tspan><tspan x="278.3" dy="22">-- Definition --</tspan><tspan x="278.3" dy="11">Data-bases or programmes</tspan><tspan x="278.3" dy="11">to which data are reported</tspan><tspan x="278.3" dy="11">Describes the end-use of the</tspan><tspan x="278.3" dy="11">measured data; it comprises</tspan><tspan x="278.3" dy="11">data-bases on national or</tspan><tspan x="278.3" dy="11">international level to be</tspan><tspan x="278.3" dy="11">selected from the codelist</tspan><tspan x="278.3" dy="11">“Reporting Level”.</tspan><tspan x="278.3" dy="11">Additional data-bases can be</tspan><tspan x="278.3" dy="11">added under D.5.4.2.</tspan><tspan x="278.3" dy="11">All the bodies to which data</tspan><tspan x="278.3" dy="11">from the station are</tspan><tspan x="278.3" dy="11">transmitted should be</tspan><tspan x="278.3" dy="11">indicated, from the local level</tspan><tspan x="278.3" dy="11">and up to national and</tspan><tspan x="278.3" dy="11">international level (e.g.</tspan><tspan x="278.3" dy="11">European Commission, EEA,</tspan><tspan x="278.3" dy="11">EMEP, OECD, GEMS,</tspan><tspan x="278.3" dy="11">WHO,....). This information</tspan><tspan x="278.3" dy="11">might be used by the</tspan><tspan x="278.3" dy="11">Commission in the future to</tspan><tspan x="278.3" dy="11">transfer the data to the</tspan><tspan x="278.3" dy="11">concerned international</tspan><tspan x="278.3" dy="11">bodies so discharging the</tspan><tspan x="278.3" dy="11">Member States of doing it.</tspan><tspan x="278.3" dy="11">See codelist Reporting Level,</tspan><tspan x="278.3" dy="11">multiple entries accepted.</tspan></text>
</g>
<g id="e-reportingDBOther">
<rect class="s" x="277.3" y="5550.4" width="136.7" height="20"/>
<rect class="b o" x="273.3" y="5546.4" width="136.7" height="20"/>
<use href="#smp" x="275" y="5545.9"/>
<text class="l" x="282.3" y="5560.4"><tspan class="p">aqd:</tspan>reportingDBOther</text>
<text class="d" x="278.3" y="5581.7"><tspan x="278.3">-- Name --</tspan><tspan x="278.3" dy="11">other reporting database</tspan><tspan x="278.3" dy="22">-- Definition --</tspan><tspan x="278.3" dy="11">If data is provided to databases</tspan><tspan x="278.3" dy="11">not in the list, please select</tspan><tspan x="278.3" dy="11">“Other specify” and then enter</tspan><tspan x="278.3" dy="11">this database in the Text field.</tspan></text>
</g>
<g id="e-zone">
<rect class="s" x="280.3" y="5680" width="125.7" height="20"/>
<rect class="b o" x="276.3" y="5676" width="125.7" height="20"/>
<rect class="b o" x="273.3" y="5673" width="125.7" height="20"/>
<path class="nt" d="M386,5694.5l3.5,3.5l3.5,-3.5"/>
<text class="l" x="282.3" y="5687"><tspan class="p">aqd:</tspan>zone</text>
<use href="#plus" x="393" y="5678"/>
<text class="c" x="393" y="5710">0..∞</text>
</g>
</g>
</svg>
